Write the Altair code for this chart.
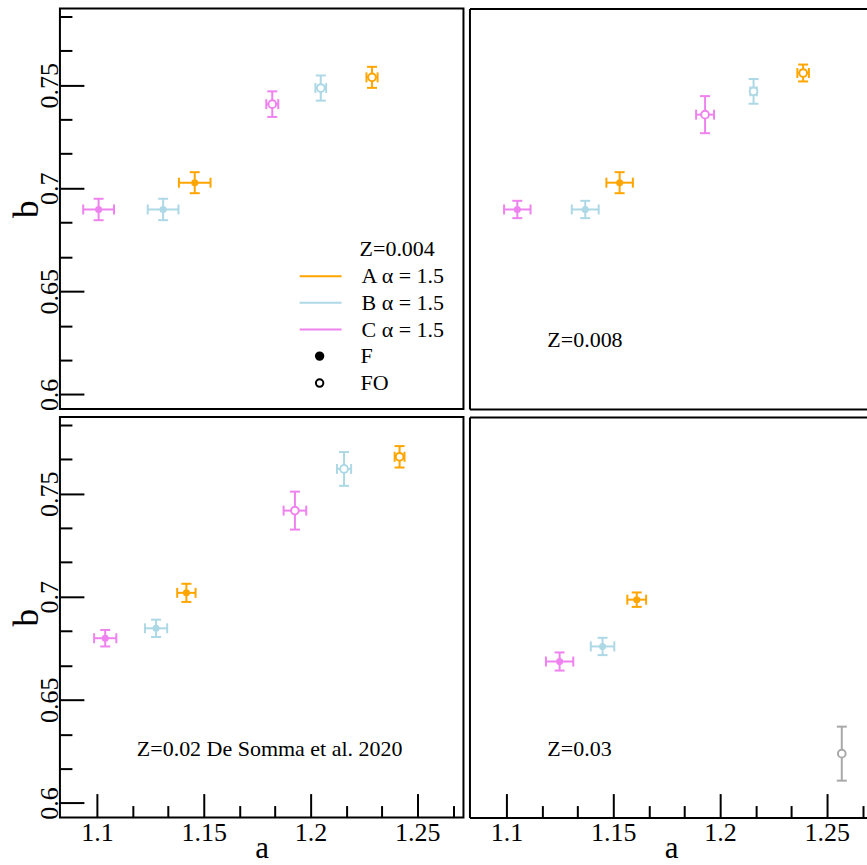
import altair as alt
import pandas as pd

# ---------------- data ----------------
series6 = ["C", "B", "A", "C", "B", "A"]
kinds6 = ["F", "F", "F", "FO", "FO", "FO"]

a_z004 = [1.1008, 1.1310, 1.1458, 1.1821, 1.2048, 1.2288]
b_z004 = [0.6897, 0.6897, 0.7027, 0.7408, 0.7486, 0.7538]
aerr_z004 = [0.0072, 0.0072, 0.0074, 0.0028, 0.0025, 0.0026]
berr_z004 = [0.0052, 0.0052, 0.0051, 0.0062, 0.0061, 0.0051]

a_z008 = [1.1051, 1.1369, 1.1530, 1.1930, 1.2157, 1.2389]
b_z008 = [0.6897, 0.6897, 0.7027, 0.7357, 0.7470, 0.7559]
aerr_z008 = [0.0062, 0.0063, 0.0062, 0.0042, 0.0015, 0.0027]
berr_z008 = [0.0042, 0.0042, 0.0051, 0.0090, 0.0060, 0.0041]

a_z02 = [1.1039, 1.1277, 1.1419, 1.1927, 1.2157, 1.2417]
b_z02 = [0.6799, 0.6847, 0.7019, 0.7418, 0.7620, 0.7679]
aerr_z02 = [0.0052, 0.0052, 0.0043, 0.0053, 0.0033, 0.0023]
berr_z02 = [0.0040, 0.0042, 0.0044, 0.0092, 0.0082, 0.0052]

series_z03 = ["C", "B", "A", "ref"]
kinds_z03 = ["F", "F", "F", "FO"]
a_z03 = [1.1249, 1.1450, 1.1610, 1.2570]
b_z03 = [0.6686, 0.6759, 0.6986, 0.6239]
aerr_z03 = [0.0064, 0.0055, 0.0044, 0.0]
berr_z03 = [0.0044, 0.0042, 0.0035, 0.0131]

panel_labels = ["Z=0.004", "Z=0.008", "Z=0.02 De Somma et al. 2020", "Z=0.03"]
legend_series = ["A", "B", "C"]
legend_kinds = ["F", "FO"]
x_major = [1.1, 1.15, 1.2, 1.25]
x_minor = [1.1167, 1.1333, 1.1667, 1.1833, 1.2167, 1.2333, 1.2667]
y_major = [0.6, 0.65, 0.7, 0.75]
y_minor = [0.6167, 0.6333, 0.6667, 0.6833, 0.7167, 0.7333, 0.7667, 0.7833]

# ---------------- styling ----------------
XDOM_L = [1.0827, 1.2716]      # full panel (404 px)
XDOM_R = [1.0827, 1.2688]      # right column, cut at the window edge (398 px)
YDOM = [0.5929, 0.7872]
WL, WR, H = 404, 398, 401
FONT = "Liberation Serif"
COLOR_DOMAIN = ["A", "B", "C", "ref"]
COLOR_RANGE = ["#FFA500", "#ADD8E6", "#EE82EE", "#A9A9A9"]


def frame(a, b, ae, be, s, k):
    df = pd.DataFrame({"a": a, "b": b, "ae": ae, "be": be, "s": s, "k": k})
    df["alo"] = df["a"] - df["ae"]
    df["ahi"] = df["a"] + df["ae"]
    df["blo"] = df["b"] - df["be"]
    df["bhi"] = df["b"] + df["be"]
    return df


def major_x():
    return alt.Axis(orient="bottom", offset=-24, tickSize=24, values=x_major, format=".2~f",
                    labelFont=FONT, labelFontSize=26,
                    labelPadding=23, labelBaseline="alphabetic", labelAlign="center",
                    title="a", titleX=202, titleY=64, titleAlign="center",
                    titleBaseline="alphabetic", titleFontSize=31)


def minor_x():
    return alt.Axis(orient="bottom", offset=-12, tickSize=12, values=x_minor, labels=False,
                    title=None)


def major_y():
    return alt.Axis(orient="left", offset=-24, tickSize=24, values=y_major, format=".2~f",
                    labelFont=FONT, labelFontSize=26,
                    labelAngle=270, labelAlign="center", labelBaseline="alphabetic",
                    labelPadding=2, title="b", titleAngle=270, titleX=-46, titleY=H / 2,
                    titleAlign="center", titleBaseline="alphabetic", titleFontSize=35)


def minor_y():
    return alt.Axis(orient="left", offset=-12, tickSize=12, values=y_minor, labels=False,
                    title=None)


def frame_axis(orient):
    return alt.Axis(orient=orient, domain=True, domainWidth=2, domainColor="black",
                    ticks=False, labels=False, title=None)


def color(legend=None):
    sc = alt.Scale(domain=COLOR_DOMAIN, range=COLOR_RANGE)
    if legend is None:
        return alt.Color("s:N", scale=sc, legend=None)
    return alt.Color("s:N", scale=sc, legend=legend)


def panel(df, label, label_xy, show_x, show_y, with_legend, right):
    width = WR if right else WL
    xdom = XDOM_R if right else XDOM_L

    def X(f, axis=None):
        return alt.X(f, type="quantitative", scale=alt.Scale(domain=xdom, nice=False, zero=False), axis=axis)

    def Y(f, axis=None):
        return alt.Y(f, type="quantitative", scale=alt.Scale(domain=YDOM, nice=False, zero=False), axis=axis)

    base = alt.Chart(df)
    col_legend = None
    if with_legend:
        col_legend = alt.Legend(orient="none", legendX=239, legendY=257, title=None,
                                values=legend_series, symbolType="stroke", symbolSize=1764,
                                symbolStrokeWidth=2, labelOffset=19, rowPadding=4.7,
                                clipHeight=22, labelFont=FONT, labelFontSize=22,
                                labelExpr="datum.label + ' α = 1.5'")
    vbar = base.mark_rule(strokeWidth=2).encode(
        x=X("a", major_x() if show_x else None),
        y=Y("blo", major_y() if show_y else None),
        y2="bhi:Q",
        color=color(col_legend),
    )
    hbar = base.mark_rule(strokeWidth=2).encode(
        x=X("alo", minor_x() if show_x else None),
        x2="ahi:Q",
        y=Y("b", minor_y() if show_y else None),
        color=color(),
    )
    hcaps = base.transform_filter("datum.ae > 0").transform_fold(
        ["alo", "ahi"], as_=["end", "xv"]).mark_tick(
        orient="vertical", size=10, thickness=2, opacity=1).encode(
        x=X("xv"),
        y=Y("b", frame_axis("left") if right else None),
        color=color(),
    )
    vcaps = base.transform_fold(["blo", "bhi"], as_=["end", "yv"]).mark_tick(
        orient="horizontal", size=10, thickness=2, opacity=1).encode(
        x=X("a"),
        y=Y("yv"),
        color=color(),
    )
    filled = base.transform_filter("datum.k == 'F'").mark_point(
        filled=True, size=50, opacity=1).encode(
        x=X("a", frame_axis("top") if right else None),
        y=Y("b"),
        color=color(),
    )
    opened = base.transform_filter("datum.k == 'FO'").mark_point(
        filled=False, fill="white", size=60, strokeWidth=2, opacity=1).encode(
        x=X("a", frame_axis("bottom") if right else None),
        y=Y("b"),
        color=color(),
    )
    text = alt.Chart(pd.DataFrame({"t": [label]})).mark_text(
        font=FONT, fontSize=22, align="left", baseline="alphabetic", color="black").encode(
        x=alt.value(label_xy[0]), y=alt.value(label_xy[1]), text="t:N")
    layers = [vbar, hbar, hcaps, vcaps, filled, opened, text]
    if with_legend:
        kind_leg = base.transform_filter("false").mark_point(
            filled=True, size=55, stroke="black", strokeWidth=2, opacity=1).encode(
            x=X("a"),
            y=Y("b"),
            fill=alt.Fill("k:N", scale=alt.Scale(domain=legend_kinds, range=["black", "white"]),
                          legend=alt.Legend(orient="none", legendX=249, legendY=337, title=None,
                                            symbolType="circle", symbolSize=55,
                                            symbolStrokeColor="black", symbolStrokeWidth=2,
                                            labelOffset=30, rowPadding=5,
                                            labelFont=FONT, labelFontSize=22)),
        )
        layers.append(kind_leg)
    ch = alt.layer(*layers).resolve_axis(x="independent", y="independent").properties(
        width=width, height=H)
    if right:
        ch = ch.properties(view=alt.ViewBackground(strokeWidth=0))
    return ch


p1 = panel(frame(a_z004, b_z004, aerr_z004, berr_z004, series6, kinds6),
           panel_labels[0], (300, 248), False, True, True, False)
p2 = panel(frame(a_z008, b_z008, aerr_z008, berr_z008, series6, kinds6),
           panel_labels[1], (78, 339), False, False, False, True)
p3 = panel(frame(a_z02, b_z02, aerr_z02, berr_z02, series6, kinds6),
           panel_labels[2], (77, 339), True, True, False, False)
p4 = panel(frame(a_z03, b_z03, aerr_z03, berr_z03, series_z03, kinds_z03),
           panel_labels[3], (78, 339), True, False, False, True)

chart = alt.concat(p1, p2, p3, p4, columns=2, spacing={"row": 8, "column": 6}, bounds="flush").resolve_scale(
    color="independent", fill="independent").resolve_legend(color="independent", fill="independent").properties(
    padding={"left": 9, "top": 7, "right": 0, "bottom": 0}
).configure_view(stroke="black", strokeWidth=2).configure_axis(
    labelFont=FONT, titleFont=FONT, labelFontSize=26, titleFontSize=34, titleFontWeight="normal",
    labelColor="black", titleColor="black", tickColor="black", tickWidth=2, grid=False,
    domain=False, labelFlush=False, labelOverlap=False
).configure_legend(labelFont=FONT, labelFontSize=22, labelColor="black")

chart.save("out.html", embed_options={"renderer": "svg", "actions": False})
